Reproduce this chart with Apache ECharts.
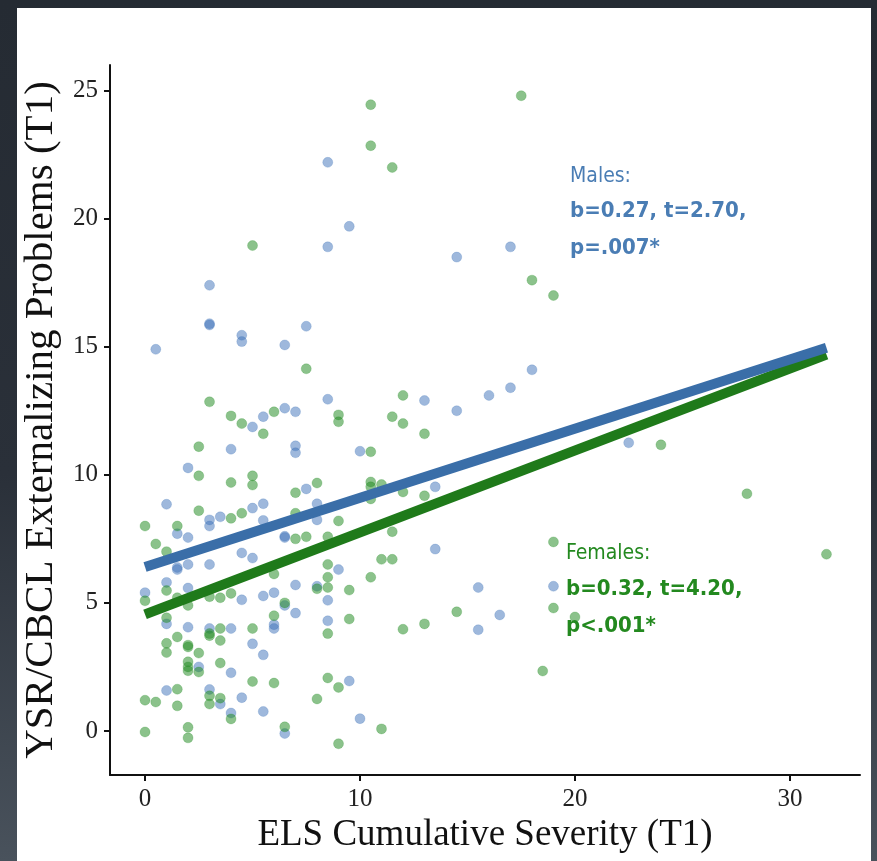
<!DOCTYPE html>
<html>
<head>
<meta charset="utf-8">
<script src="https://cdn.jsdelivr.net/npm/echarts@6/dist/echarts.min.js"></script>
<style>
  html, body { margin: 0; padding: 0; }
  body { width: 877px; height: 861px; background: linear-gradient(to bottom, #252b33 0%, #2a3039 55%, #49525c 100%); overflow: hidden; }
  #chart { width: 877px; height: 861px; }
</style>
</head>
<body>
<div id="chart"></div>
<script>
// ---- Data ----
const xTicks = [0, 10, 20, 30];
const yTicks = [0, 5, 10, 15, 20, 25];

const males = [
  [8.5, 22.2], [9.5, 19.7], [8.5, 18.9], [17, 18.9], [14.5, 18.5], [3, 17.4],
  [3, 15.9], [3, 15.85], [4.5, 15.45], [4.5, 15.2], [6.5, 15.07], [7.5, 15.8],
  [0.5, 14.9], [18, 14.1], [17, 13.4], [16, 13.1], [13, 12.9], [8.5, 12.95],
  [14.5, 12.5], [5.0, 11.87], [5.5, 12.27], [6.5, 12.6], [7.0, 12.46], [4.0, 11.0],
  [7.0, 11.13], [7.0, 10.86], [10.0, 10.92], [22.5, 11.25], [2.0, 10.27], [7.5, 9.45],
  [13.5, 9.53], [1.0, 8.85], [3.0, 8.24], [3.0, 8.0], [3.5, 8.36], [5.0, 8.7],
  [5.5, 8.87], [5.5, 8.22], [8.0, 8.87], [8.0, 8.24], [1.5, 7.7], [2.0, 7.55],
  [6.5, 7.6], [6.5, 7.55], [13.5, 7.1], [4.5, 6.95], [5.0, 6.75], [1.5, 6.38],
  [1.5, 6.3], [2.0, 6.5], [3.0, 6.5], [9.0, 6.3], [1.0, 5.8], [0.0, 5.4],
  [2.0, 5.58], [7.0, 5.7], [8.0, 5.65], [15.5, 5.6], [19.0, 5.65], [4.5, 5.12],
  [5.5, 5.27], [6.0, 5.4], [6.5, 4.9], [7.0, 4.6], [8.5, 5.1], [8.5, 4.3],
  [16.5, 4.53], [15.5, 3.95], [1.0, 4.18], [2.0, 4.05], [3.0, 4.0], [4.0, 4.0],
  [6.0, 4.15], [6.0, 4.0], [5.0, 3.4], [5.5, 2.97], [2.5, 2.5], [4.0, 2.27],
  [9.5, 1.95], [1.0, 1.58], [3.0, 1.62], [3.5, 1.05], [4.5, 1.3], [4.0, 0.7],
  [5.5, 0.76], [10.0, 0.48], [6.5, -0.1]
];

const females = [
  [10.5, 24.45], [17.5, 24.8], [10.5, 22.85], [11.5, 22.0], [5.0, 18.95], [18, 17.6],
  [19, 17.0], [7.5, 14.14], [3.0, 12.85], [4.0, 12.3], [4.5, 12.0], [6.0, 12.46],
  [5.5, 11.6], [9.0, 12.34], [9.0, 12.07], [12.0, 13.1], [11.5, 12.27], [12.0, 12.0],
  [13.0, 11.6], [2.5, 11.1], [10.5, 10.9], [24.0, 11.17], [2.5, 9.96], [4.0, 9.7],
  [5.0, 9.96], [5.0, 9.6], [7.0, 9.3], [8.0, 9.68], [10.5, 9.72], [10.5, 9.53],
  [10.5, 9.06], [11.0, 9.62], [12.0, 9.33], [13.0, 9.18], [28.0, 9.26], [2.5, 8.6],
  [4.0, 8.3], [4.5, 8.5], [7.0, 8.5], [9.0, 8.2], [0.0, 8.0], [1.5, 8.0],
  [0.5, 7.3], [1.0, 7.0], [7.0, 7.5], [7.5, 7.58], [8.5, 7.58], [11.5, 7.78],
  [19.0, 7.38], [31.7, 6.9], [8.5, 6.5], [11.0, 6.7], [11.5, 6.7], [6.0, 6.13],
  [8.5, 6.0], [10.5, 6.0], [1.0, 5.48], [0.0, 5.08], [8.0, 5.55], [8.5, 5.6],
  [9.5, 5.5], [1.5, 5.2], [2.0, 4.9], [3.0, 5.24], [3.5, 5.2], [4.0, 5.37],
  [6.5, 5.0], [6.0, 4.5], [9.5, 4.37], [1.0, 4.42], [12.0, 3.97], [13.0, 4.18],
  [14.5, 4.65], [19.0, 4.8], [20.0, 4.45], [1.5, 3.67], [2.0, 3.35], [2.0, 3.28],
  [1.0, 3.42], [1.0, 3.06], [2.5, 3.04], [3.0, 3.8], [3.0, 3.72], [3.5, 4.0],
  [3.5, 3.53], [5.0, 4.0], [8.5, 3.8], [2.0, 2.7], [2.0, 2.5], [2.0, 2.35],
  [2.5, 2.3], [3.5, 2.65], [5.0, 1.93], [6.0, 1.87], [8.5, 2.07], [9.0, 1.7],
  [18.5, 2.34], [1.5, 1.63], [3.0, 1.37], [3.0, 1.05], [3.5, 1.28], [0.0, 1.2],
  [0.5, 1.13], [1.5, 0.98], [4.0, 0.47], [8.0, 1.25], [11.0, 0.08], [0.0, -0.04],
  [2.0, 0.14], [2.0, -0.27], [6.5, 0.16], [9.0, -0.5]
];

// regression line end points
const maleLine = [[0, 6.4], [31.7, 14.96]];
const femaleLine = [[0, 4.55], [31.7, 14.69]];

const maleText = ['Males:', 'b=0.27, t=2.70,', 'p=.007*'];
const femaleText = ['Females:', 'b=0.32, t=4.20,', 'p<.001*'];

// ---- Chart ----
const chart = echarts.init(document.getElementById('chart'), null, { renderer: 'canvas' });
const serif = '"Liberation Serif", "Times New Roman", serif';
const annFont = '"DejaVu Sans Condensed", "DejaVu Sans", sans-serif';
const maleTextColor = '#4a7db4';
const femaleTextColor = '#23891f';

chart.setOption({
  backgroundColor: 'transparent',
  animation: false,
  grid: { left: 110, top: 65, right: 17, bottom: 86, containLabel: false },
  xAxis: {
    type: 'value', min: -1.63, max: 33.26,
    name: 'ELS Cumulative Severity (T1)', nameLocation: 'middle', nameGap: 40,
    nameTextStyle: { fontFamily: serif, fontSize: 37, color: '#111' },
    axisLine: { show: true, onZero: false, lineStyle: { color: '#111', width: 2 } },
    axisTick: { show: true, length: 6, lineStyle: { color: '#111', width: 2 }, customValues: xTicks },
    axisLabel: { fontFamily: serif, fontSize: 25, color: '#222', margin: 12, customValues: xTicks },
    splitLine: { show: false }
  },
  yAxis: {
    type: 'value', min: -1.72, max: 26.0,
    name: 'YSR/CBCL Externalizing Problems (T1)', nameLocation: 'middle', nameGap: 47,
    nameTextStyle: { fontFamily: serif, fontSize: 41, color: '#111' },
    axisLine: { show: true, onZero: false, lineStyle: { color: '#111', width: 2 } },
    axisTick: { show: true, length: 6, lineStyle: { color: '#111', width: 2 }, customValues: yTicks },
    axisLabel: { fontFamily: serif, fontSize: 25, color: '#222', margin: 12, customValues: yTicks },
    splitLine: { show: false }
  },
  graphic: [
    { type: 'rect', z: -100, silent: true, shape: { x: 17, y: 8, width: 854, height: 853 }, style: { fill: '#ffffff' } },
    { type: 'text', z: 100, left: 570, top: 166, style: { text: maleText[0], font: '21px ' + annFont, fill: maleTextColor } },
    { type: 'text', z: 100, left: 570, top: 200, style: { text: maleText[1], font: 'bold 22px ' + annFont, fill: maleTextColor } },
    { type: 'text', z: 100, left: 570, top: 237, style: { text: maleText[2], font: 'bold 22px ' + annFont, fill: maleTextColor } },
    { type: 'text', z: 100, left: 566, top: 543, style: { text: femaleText[0], font: '21px ' + annFont, fill: femaleTextColor } },
    { type: 'text', z: 100, left: 566, top: 578, style: { text: femaleText[1], font: 'bold 22px ' + annFont, fill: femaleTextColor } },
    { type: 'text', z: 100, left: 566, top: 615, style: { text: femaleText[2], font: 'bold 22px ' + annFont, fill: femaleTextColor } }
  ],
  series: [
    {
      name: 'Males', type: 'scatter', data: males, symbolSize: 10, z: 2,
      itemStyle: { color: 'rgba(58,112,184,0.62)', borderColor: 'rgba(58,112,184,0.35)', borderWidth: 0.8 }
    },
    {
      name: 'Females', type: 'scatter', data: females, symbolSize: 10, z: 2,
      itemStyle: { color: 'rgba(34,139,34,0.66)', borderColor: 'rgba(34,139,34,0.35)', borderWidth: 0.8 }
    },
    {
      name: 'Females fit', type: 'line', data: femaleLine, symbol: 'none', z: 5,
      lineStyle: { color: '#1f7a1a', width: 10, cap: 'butt' }
    },
    {
      name: 'Males fit', type: 'line', data: maleLine, symbol: 'none', z: 6,
      lineStyle: { color: '#3a6ea8', width: 10, cap: 'butt' }
    }
  ]
});
</script>
</body>
</html>
